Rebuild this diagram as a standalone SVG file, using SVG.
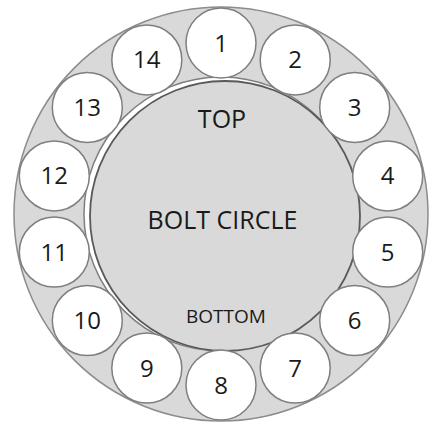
<svg xmlns="http://www.w3.org/2000/svg" width="429" height="426" viewBox="0 0 429 426">
<style>
.ring{fill:#d9d9d9;stroke:#8c8c8c;stroke-width:1.5}
.inner{fill:#ffffff;stroke:#7f7f7f;stroke-width:1.5}
.bolt{fill:#d9d9d9;stroke:#595959;stroke-width:1.8}
.ball circle{fill:#ffffff;stroke:#7f7f7f;stroke-width:1.5}
.ball text{font-family:"Open Sans","Noto Sans",sans-serif;font-size:24px;fill:#1a1a1a;text-anchor:middle}
.lbl{font-family:"Open Sans","Noto Sans",sans-serif;fill:#1a1a1a;text-anchor:middle}
</style>
<rect width="429" height="426" fill="#ffffff"/>
<g id="outer-ring"><circle class="ring" cx="221" cy="214" r="207"/></g>
<g id="inner-ring"><circle class="inner" cx="221" cy="214" r="137"/></g>
<g id="bolt-circle">
<circle class="bolt" cx="225" cy="216" r="135"/>
<text class="lbl" x="222" y="128" font-size="25">TOP</text>
<text class="lbl" x="222.5" y="229" font-size="25">BOLT CIRCLE</text>
<text class="lbl" x="226" y="323" font-size="19">BOTTOM</text>
</g>
<g id="connectors"></g>
<g id="ball-1" class="ball"><circle cx="221" cy="43" r="35"/><text x="221" y="51.5">1</text></g>
<g id="ball-2" class="ball"><circle cx="295.2" cy="59.9" r="35"/><text x="295.2" y="68.4">2</text></g>
<g id="ball-3" class="ball"><circle cx="354.7" cy="107.4" r="35"/><text x="354.7" y="115.9">3</text></g>
<g id="ball-4" class="ball"><circle cx="387.7" cy="175.9" r="35"/><text x="387.7" y="184.4">4</text></g>
<g id="ball-5" class="ball"><circle cx="387.7" cy="252.1" r="35"/><text x="387.7" y="260.6">5</text></g>
<g id="ball-6" class="ball"><circle cx="354.7" cy="320.6" r="35"/><text x="354.7" y="329.1">6</text></g>
<g id="ball-7" class="ball"><circle cx="295.2" cy="368.1" r="35"/><text x="295.2" y="376.6">7</text></g>
<g id="ball-8" class="ball"><circle cx="221" cy="385" r="35"/><text x="221" y="393.5">8</text></g>
<g id="ball-9" class="ball"><circle cx="146.8" cy="368.1" r="35"/><text x="146.8" y="376.6">9</text></g>
<g id="ball-10" class="ball"><circle cx="87.3" cy="320.6" r="35"/><text x="87.3" y="329.1">10</text></g>
<g id="ball-11" class="ball"><circle cx="54.3" cy="252.1" r="35"/><text x="54.3" y="260.6">11</text></g>
<g id="ball-12" class="ball"><circle cx="54.3" cy="175.9" r="35"/><text x="54.3" y="184.4">12</text></g>
<g id="ball-13" class="ball"><circle cx="87.3" cy="107.4" r="35"/><text x="87.3" y="115.9">13</text></g>
<g id="ball-14" class="ball"><circle cx="146.8" cy="59.9" r="35"/><text x="146.8" y="68.4">14</text></g>
</svg>
